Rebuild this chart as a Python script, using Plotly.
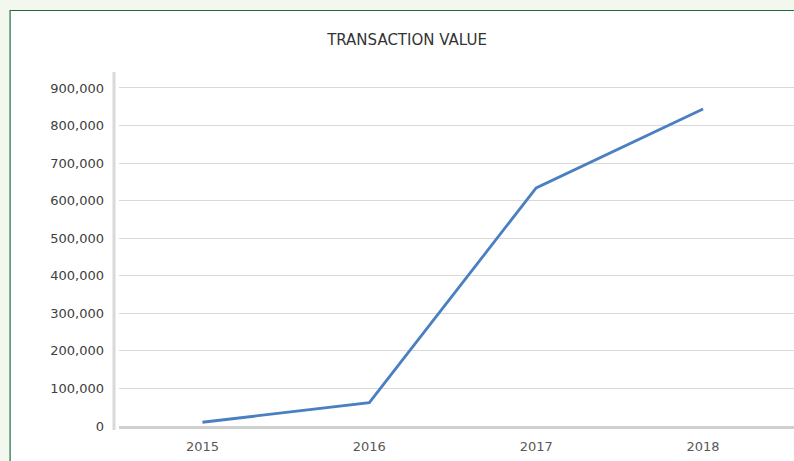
import plotly.graph_objects as go

years = ["2015", "2016", "2017", "2018"]
values = [10000, 62000, 634000, 844000]

W, H = 794, 461
L, R, T, B = 118.5, 0, 72, 35
pw = W - L - R
ph = H - T - B

def px_x(p):
    return (p - L) / pw

def px_y(p):
    return (H - B - p) / ph

fig = go.Figure()
fig.add_trace(go.Scatter(
    x=years, y=values, mode="lines",
    line=dict(color="#4a7fc1", width=2.8),
    hoverinfo="skip", showlegend=False,
))

fig.update_layout(
    width=W, height=H,
    margin=dict(l=L, r=R, t=T, b=B),
    paper_bgcolor="#f2f8ee",
    plot_bgcolor="rgba(0,0,0,0)",
    font=dict(family="DejaVu Sans", color="#404040", size=13),
    title=dict(text="TRANSACTION VALUE", x=(407 / W), xanchor="center",
               y=1 - 40 / H, yanchor="middle",
               font=dict(family="DejaVu Sans", size=15, color="#333333")),
    xaxis=dict(
        type="category", range=[-0.5, 3.545],
        showgrid=False, zeroline=False,
        showline=True, linecolor="#d0d0d0", linewidth=3,
        ticks="", ticklabelstandoff=6,
        tickfont=dict(size=13, color="#595959"),
    ),
    yaxis=dict(
        range=[0, 942500], dtick=100000, tick0=0, tickformat=",",
        showgrid=True, gridcolor="#d9d9d9", gridwidth=1,
        zeroline=False, showline=False, ticks="",
        ticklabelstandoff=14,
        tickfont=dict(size=13, color="#404040"),
    ),
    shapes=[
        dict(type="rect", xref="paper", yref="paper",
             x0=px_x(9.5), x1=px_x(820), y0=px_y(480), y1=px_y(10.5),
             fillcolor="white", line=dict(color="#1f6b48", width=1.2),
             layer="below"),
        dict(type="line", xref="paper", yref="paper",
             x0=px_x(113.5), x1=px_x(113.5), y0=px_y(430), y1=px_y(72),
             line=dict(color="#d9d9d9", width=3), layer="below"),
    ],
)

fig.write_html(
    "out.html",
    config={"displayModeBar": False},
    post_script="document.body.style.margin='0';document.body.style.background='#f2f8ee';document.body.style.overflow='hidden';",
)
